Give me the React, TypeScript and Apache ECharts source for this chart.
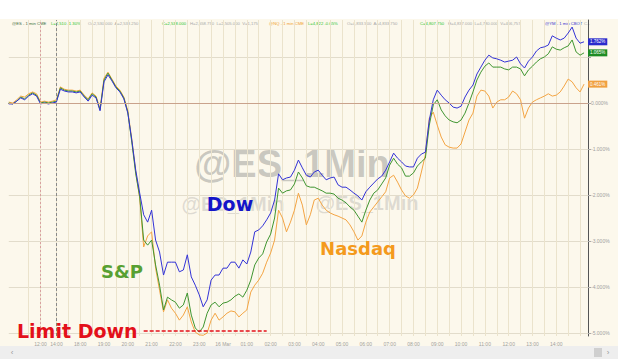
import React, { useEffect, useRef } from "react";
import * as echarts from "echarts";

// ---- data (percent change) ----
const dowValues = [
  -0.02, -0.02, 0.04, 0.11, 0.07, 0.15, 0.2, 0.15, -0.02, 0.0,
  -0.02, 0.0, 0.02, 0.3, 0.26, 0.24, 0.24, 0.22, 0.24, 0.13,
  0.04, 0.17, 0.11, -0.17, 0.46, 0.61, 0.48, 0.33, 0.24, 0.09,
  -0.22, -0.8, -1.46, -1.96, -2.43, -2.59, -2.33, -2.98, -3.24, -3.74,
  -3.46, -3.46, -3.46, -3.67, -3.63, -3.3, -3.78, -3.96, -4.17, -4.43,
  -4.28, -3.85, -3.74, -3.74, -3.59, -3.59, -3.46, -3.46, -3.59, -3.41,
  -3.5, -3.24, -2.8, -2.76, -2.67, -2.54, -2.39, -2.11, -1.54, -1.67,
  -1.63, -1.61, -1.46, -1.24, -1.41, -1.57, -1.61, -1.5, -1.46, -1.57,
  -1.67, -1.63, -1.61, -1.78, -1.83, -1.83, -1.89, -1.96, -2.02, -2.11,
  -1.93, -1.83, -1.74, -1.65, -1.59, -1.46, -1.28, -1.09, -1.2, -1.28,
  -1.37, -1.39, -1.39, -1.2, -1.11, -1.07, -0.37, 0.07, 0.28, 0.17,
  0.07, 0.0, -0.09, -0.11, -0.07, 0.13, 0.28, 0.39, 0.63, 0.78,
  0.93, 1.04, 0.98, 0.96, 0.93, 0.89, 0.91, 0.93, 1.0, 0.85,
  0.76, 0.91, 1.0, 1.13, 1.2, 1.22, 1.26, 1.46, 1.41, 1.37,
  1.41, 1.52, 1.65, 1.41, 1.3, 1.33,
];
const spValues = [
  0.0, -0.02, 0.04, 0.13, 0.09, 0.17, 0.22, 0.17, 0.0, 0.02,
  0.0, 0.02, 0.04, 0.33, 0.28, 0.26, 0.26, 0.24, 0.26, 0.15,
  0.07, 0.2, 0.13, -0.15, 0.5, 0.65, 0.5, 0.35, 0.26, 0.11,
  -0.2, -0.85, -1.54, -2.04, -2.98, -3.09, -2.98, -3.52, -3.96, -4.5,
  -4.22, -4.28, -4.33, -4.46, -4.39, -4.13, -4.61, -4.89, -4.98, -4.87,
  -4.57, -4.39, -4.33, -4.43, -4.35, -4.33, -4.28, -4.2, -4.15, -4.22,
  -4.07, -3.85, -3.52, -3.37, -3.28, -3.02, -2.85, -2.5, -1.85, -1.96,
  -1.91, -1.89, -1.76, -1.5, -1.63, -1.8, -1.83, -1.83, -1.87, -1.91,
  -1.96, -1.96, -1.98, -2.07, -2.11, -2.17, -2.26, -2.33, -2.46, -2.59,
  -2.33, -2.11, -1.96, -1.89, -1.76, -1.63, -1.35, -1.2, -1.33, -1.41,
  -1.59, -1.59, -1.52, -1.37, -1.28, -1.2, -0.48, -0.04, 0.07, -0.15,
  -0.28, -0.37, -0.41, -0.43, -0.37, -0.22, 0.0, 0.24, 0.5, 0.67,
  0.8, 0.87, 0.78, 0.78, 0.78, 0.74, 0.72, 0.78, 0.78, 0.74,
  0.59, 0.72, 0.8, 0.89, 0.96, 1.0, 1.07, 1.22, 1.17, 1.15,
  1.2, 1.24, 1.37, 1.11, 1.04, 1.09,
];
const nasdaqValues = [
  0.02, 0.0, 0.07, 0.15, 0.13, 0.2, 0.24, 0.2, 0.02, 0.04,
  0.02, 0.04, 0.07, 0.35, 0.3, 0.28, 0.28, 0.26, 0.28, 0.17,
  0.09, 0.22, 0.15, -0.13, 0.54, 0.67, 0.52, 0.37, 0.28, 0.13,
  -0.17, -0.78, -1.5, -2.07, -3.13, -2.89, -2.8, -3.59, -4.07, -4.54,
  -4.28, -4.46, -4.57, -4.72, -4.61, -4.43, -4.76, -4.98, -5.04, -5.05,
  -5.0, -4.72, -4.57, -4.72, -4.65, -4.57, -4.52, -4.54, -4.65, -4.57,
  -4.5, -4.11, -3.96, -3.85, -3.7, -3.46, -3.26, -2.98, -2.33, -2.5,
  -2.8, -2.59, -2.33, -1.96, -2.22, -2.65, -2.43, -2.11, -2.07, -2.22,
  -2.33, -2.39, -2.43, -2.46, -2.5, -2.54, -2.65, -2.8, -2.98, -2.89,
  -2.59, -2.37, -2.26, -2.15, -2.04, -1.93, -1.63, -1.57, -1.72, -1.89,
  -2.02, -2.07, -2.0, -1.85, -1.5, -1.13, -0.33, -0.2, -0.48, -0.74,
  -0.91, -0.96, -0.98, -0.98, -0.89, -0.63, -0.37, -0.22, 0.15, 0.28,
  0.26, 0.15, -0.11, 0.02, 0.07, 0.07, 0.13, 0.26, 0.2, 0.07,
  -0.33, -0.11, 0.02, 0.07, 0.11, 0.15, 0.2, 0.15, 0.17, 0.24,
  0.37, 0.52, 0.46, 0.33, 0.24, 0.41,
];
const SLOT_COUNT = 147;
const categories = Array.from({ length: SLOT_COUNT }, (_, i) => String(i));
const endLabels = ["1.762%", "1.065%", "0.461%"];
const xTickIndex = [8, 12, 18, 24, 30, 36, 42, 48, 54, 60, 66, 72, 78, 84, 90, 96, 102, 108, 114, 120, 126, 132, 138];
const xTickLabels = [
  "12:00", "14:00", "18:00", "19:00", "20:00", "21:00", "22:00", "23:00", "16 Mar", "01:00", "02:00", "03:00",
  "04:00", "05:00", "06:00", "07:00", "08:00", "09:00", "10:00", "11:00", "12:00", "13:00", "14:00",
];
const gridIndex = [5, 8, 12, 15, 18, 21, 24, 27, 30, 33, 36, 39, 42, 45, 48, 51, 54, 57, 60, 63, 66, 69, 72, 75, 78, 81, 84, 87, 90, 93, 96, 99, 102, 105, 108, 111, 114, 117, 120, 123, 126, 129, 132, 135, 138, 141, 144];
const dayBreakIndex = 8;
const sessionBreakIndex = 12;
const LIMIT_DOWN = -4.96;
const limitFrom = 34;
const limitTo = 65;
const headerTexts = [
  "@ES - 1 min CME",
  "L=2,510 -1.30%",
  "O=2,530.000  A=2,533.250",
  "C=2,538.000",
  "H=2,558.750  L=2,505.000  V=1,175",
  "@NQ - 1 min CME",
  "L=4,822 -0.65%",
  "O=4,833.500  A=4,833.750",
  "C=4,807.750",
  "H=4,837.000  L=4,780.000  V=406,757",
  "@YM - 1 min CBOT",
  "C--",
];

// ---- layout / style ----
const headerX = [12, 51, 88, 162, 190, 269, 308, 347, 420, 448, 545, 584];
const headerColors = ["#3c6b3c", "#2ec42e", "#a8a8a8", "#2ec42e", "#a8a8a8", "#f0a030", "#2ec42e", "#a8a8a8", "#2ec42e", "#a8a8a8", "#3535cc", "#a8a8a8"];
const BLUE = "#3333d6";
const GREEN = "#3f9530";
const ORANGE = "#f3a443";

export default function App() {
  const ref = useRef<HTMLDivElement>(null);
  useEffect(() => {
    if (!ref.current) return;
    const chart = echarts.init(ref.current, undefined, { renderer: "svg" });
    const endLabel = (text: string, bg: string) => ({
      show: true,
      formatter: () => text,
      color: "#fff",
      backgroundColor: bg,
      fontSize: 4.5,
      fontFamily: "Liberation Sans",
      padding: [1, 2, 1, 2],
      distance: 4,
    });
    const graphic: any[] = [
      { type: "rect", silent: true, shape: { x: 0, y: 0, width: 618, height: 19 }, style: { fill: "#ffffff" } },
      { type: "rect", silent: true, shape: { x: 0, y: 346, width: 618, height: 13 }, style: { fill: "#eeeeee" } },
      { type: "rect", silent: true, shape: { x: 0, y: 359, width: 618, height: 5 }, style: { fill: "#ffffff" } },
      { type: "rect", silent: true, shape: { x: 594, y: 348, width: 8, height: 9 }, style: { fill: "#cfcfcf" } },
      { type: "text", silent: true, x: 12, y: 352.5, style: { text: "‹", fill: "#999", font: "8px 'Liberation Sans'", align: "center", verticalAlign: "middle" } },
      { type: "text", silent: true, x: 608, y: 352.5, style: { text: "›", fill: "#999", font: "8px 'Liberation Sans'", align: "center", verticalAlign: "middle" } },
      // watermarks
      { type: "text", silent: true, x: 292, y: 164, style: { text: "@ES_1Min", fill: "rgba(120,120,120,0.38)", font: "bold 38px 'Liberation Sans'", align: "center", verticalAlign: "middle" } },
      { type: "text", silent: true, x: 233, y: 204, style: { text: "@ES_1Min", fill: "rgba(130,130,130,0.25)", font: "bold 20px 'Liberation Sans'", align: "center", verticalAlign: "middle" } },
      { type: "text", silent: true, x: 367, y: 203, style: { text: "@ES_1Min", fill: "rgba(130,130,130,0.25)", font: "bold 20px 'Liberation Sans'", align: "center", verticalAlign: "middle" } },
      // annotations
      { type: "text", z: 100, silent: true, x: 230, y: 204, style: { text: "Dow", fill: "#1414c8", font: "bold 19px 'DejaVu Sans'", align: "center", verticalAlign: "middle" } },
      { type: "text", z: 100, silent: true, x: 122, y: 271, style: { text: "S&P", fill: "#58a032", font: "bold 18px 'DejaVu Sans'", align: "center", verticalAlign: "middle" } },
      { type: "text", z: 100, silent: true, x: 358, y: 248, style: { text: "Nasdaq", fill: "#f49a1c", font: "bold 18px 'DejaVu Sans'", align: "center", verticalAlign: "middle" } },
      { type: "text", z: 100, silent: true, x: 17, y: 331, style: { text: "Limit Down", fill: "#e3101a", font: "bold 19px 'DejaVu Sans'", align: "left", verticalAlign: "middle" } },
    ];
    headerTexts.forEach((t, i) => {
      graphic.push({
        type: "text",
        silent: true,
        x: headerX[i],
        y: 23,
        style: { text: t, fill: headerColors[i], font: "4.2px 'Liberation Sans'", align: "left", verticalAlign: "middle" },
      });
    });

    const option: any = {
      animation: false,
      backgroundColor: "#fcf8ec",
      grid: { left: 8.8, right: 30, top: 20, bottom: 28, containLabel: false },
      xAxis: {
        type: "category",
        data: categories,
        boundaryGap: false,
        axisLine: { show: true, lineStyle: { color: "#555", width: 1 } },
        axisTick: { show: false },
        axisLabel: {
          interval: (i: number) => xTickIndex.includes(i),
          formatter: (v: string) => {
            const k = xTickIndex.indexOf(Number(v));
            return k >= 0 ? xTickLabels[k] : "";
          },
          color: "#a0a0a0",
          fontSize: 5,
          fontFamily: "Liberation Sans",
          margin: 5,
        },
        splitLine: {
          show: true,
          interval: (i: number) => gridIndex.includes(i),
          lineStyle: { color: "#ebe3cc", width: 1 },
        },
      },
      yAxis: {
        type: "value",
        position: "right",
        min: -5.065,
        max: 1.804,
        splitNumber: 7,
        axisLine: { show: true, lineStyle: { color: "#555", width: 1 } },
        axisTick: { show: true, length: 3, lineStyle: { color: "#aaa" } },
        axisLabel: {
          showMinLabel: false,
          showMaxLabel: false,
          formatter: (v: number) => (v <= 0 && Math.abs(v - Math.round(v)) < 1e-6 ? v.toFixed(3) + "%" : ""),
          color: "#a0a0a0",
          fontSize: 5,
          fontFamily: "Liberation Sans",
          margin: 3,
        },
        splitLine: { show: true, showMinLine: false, showMaxLine: false, lineStyle: { color: "#e2dccb", width: 1 } },
      },
      series: [
        {
          name: "Nasdaq",
          type: "line",
          data: nasdaqValues,
          symbol: "none",
          showSymbol: false,
          lineStyle: { color: ORANGE, width: 1 },
          itemStyle: { color: ORANGE },
          endLabel: endLabel(endLabels[2], "#f0a040"),
          markLine: {
            silent: true,
            symbol: ["none", "none"],
            label: { show: false },
            animation: false,
            data: [
              { yAxis: 0, lineStyle: { color: "#c9a28c", type: "solid", width: 1 } },
              { xAxis: dayBreakIndex, lineStyle: { color: "#d9a0a0", type: [2, 2], width: 1 } },
              { xAxis: sessionBreakIndex, lineStyle: { color: "#8a8a8a", type: [3, 2], width: 1 } },
              [
                { coord: [limitFrom, LIMIT_DOWN], lineStyle: { color: "#e3101a", type: [4, 2], width: 1.5 } },
                { coord: [limitTo, LIMIT_DOWN] },
              ],
            ],
          },
        },
        {
          name: "S&P",
          type: "line",
          data: spValues,
          symbol: "none",
          showSymbol: false,
          lineStyle: { color: GREEN, width: 1 },
          itemStyle: { color: GREEN },
          endLabel: endLabel(endLabels[1], "#1e8c24"),
        },
        {
          name: "Dow",
          type: "line",
          data: dowValues,
          symbol: "none",
          showSymbol: false,
          lineStyle: { color: BLUE, width: 1 },
          itemStyle: { color: BLUE },
          endLabel: endLabel(endLabels[0], "#2a2acc"),
        },
      ],
      graphic,
    };
    chart.setOption(option);
    return () => chart.dispose();
  }, []);
  return <div ref={ref} style={{ width: 618, height: 364, position: "absolute", left: 0, top: 0 }} />;
}
